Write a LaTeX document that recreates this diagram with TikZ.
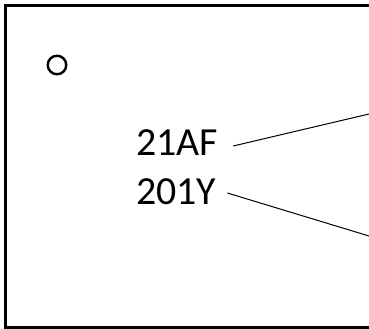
\documentclass[tikz,border=0pt]{standalone}
\usepackage{fontspec}
\setmainfont{Carlito}
\usepackage{tikz}

\begin{document}
\begin{tikzpicture}[
  x=1bp, y=-1bp,
  every node/.style={inner sep=0pt, font=\fontsize{40}{49}\selectfont},
  frame/.style={draw, line width=2.6bp},
  mark ring/.style={draw, circle, line width=2.4bp, minimum size=18.5bp},
  lead/.style={draw, line width=1bp}
]
\useasboundingbox (0,0) rectangle (369,329);
% frame runs on to the right edge
\draw[frame] (369,5.5) -- (5.5,5.5) -- (5.5,327.5) -- (369,327.5);
\node[mark ring] (ring) at (57,65) {};
\node[anchor=base west] (af) at (136,155) {21AF};
\node[anchor=base west] (y) at (136,204) {201Y};
\coordinate (afend) at (369,114);
\coordinate (yend) at (369,236);
\draw[lead] ([xshift=15bp, yshift=9bp]af.base east) -- (afend);
\draw[lead] ([xshift=11bp, yshift=11bp]y.base east) -- (yend);
\end{tikzpicture}
\end{document}
